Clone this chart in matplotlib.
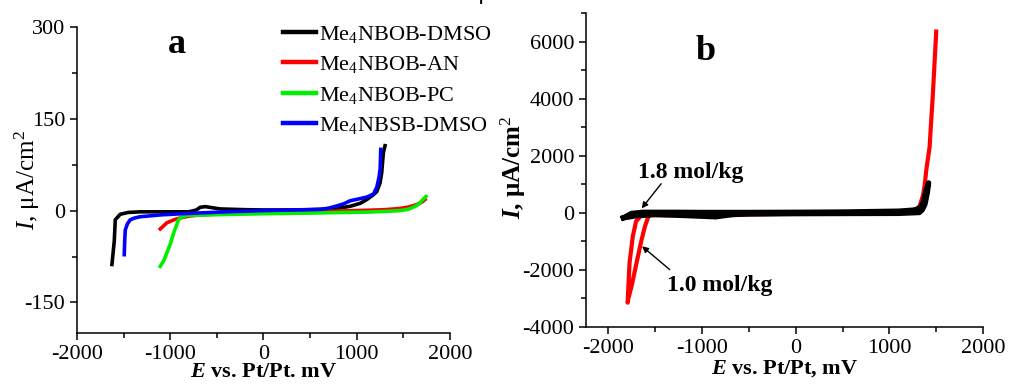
import matplotlib
matplotlib.use("Agg")
import matplotlib.pyplot as plt
from matplotlib.ticker import MultipleLocator

plt.rcParams["font.family"] = ["Liberation Serif", "DejaVu Serif"]
plt.rcParams["mathtext.fontset"] = "custom"
plt.rcParams["mathtext.rm"] = "Liberation Serif"
plt.rcParams["mathtext.it"] = "Liberation Serif:italic"
plt.rcParams["mathtext.bf"] = "Liberation Serif:bold"
plt.rcParams["mathtext.bfit"] = "Liberation Serif:italic:bold"
plt.rcParams["axes.unicode_minus"] = False

# panel a: linear sweeps, E (mV) / I (uA/cm2)
bob_dmso_e = [-1625, -1600, -1589, -1536, -1450, -1321, -1000, -800, -720, -678, -625,
              -540, -464, -200, 0, 400, 750, 930, 1040, 1108, 1180, 1215, 1250, 1268,
              1286, 1304]
bob_dmso_i = [-88, -50, -15, -6, -3, -2, -2, -2, 1, 5.4, 6.5, 4.5, 2.7, 1.5, 1, 1, 2.7, 7,
              12, 18, 26, 31, 45, 62, 95, 106]

bob_an_e = [-1107, -1036, -960, -893, -800, -678, -400, 0, 500, 1000, 1300, 1464, 1560,
            1643, 1700, 1733]
bob_an_i = [-30, -20, -15, -12, -9, -7, -5, -3, -2, 0, 1.5, 3.5, 6, 9.8, 14, 18]

bob_pc_e = [-1107, -1070, -1036, -1000, -964, -911, -870, -821, -600, -300, 36, 500,
            1108, 1350, 1464, 1550, 1607, 1660, 1697, 1743]
bob_pc_i = [-91, -82, -69, -55, -37, -15, -10, -8, -7, -6, -5, -4, -2.5, -1, 0, 2, 5.5,
            10, 16, 23]

bsb_dmso_e = [-1493, -1488, -1482, -1460, -1429, -1380, -1321, -1100, -858, -400, 0,
              300, 607, 700, 786, 860, 929, 1020, 1108, 1179, 1215, 1240, 1251, 1258]
bsb_dmso_i = [-72, -50, -31.6, -22, -15, -12, -10, -7, -5, -2, 0, 1, 2, 4, 7.6, 11, 16,
              19, 22, 27, 38, 55, 68, 100]

# panel b: 1.0 mol/kg (red loop) and 1.8 mol/kg (black loop)
c10_e = [-1561, -1575, -1610, -1646, -1700, -1753, -1788, -1795, -1792, -1775, -1740,
         -1705, -1650, -1561, -1400, -1000, -778, -500, 0, 500, 1000, 1216, 1290, 1323,
         1358, 1376, 1394, 1429, 1465, 1500]
c10_i = [-100, -140, -469, -934, -1748, -2562, -3000, -3147, -2900, -1748, -819, -294,
         -94, -80, -85, -90, -94, -60, -30, -10, 20, 50, 120, 231, 600, 930, 1500, 2300,
         4196, 6350]

c18_e = [-1840, -1800, -1753, -1632, -1300, -1000, -500, 0, 500, 1100, 1250, 1290, 1330,
         1360, 1394, 1419, 1405, 1380, 1350, 1320, 1100, 500, 0, -500, -676, -853,
         -1024, -1300, -1500, -1700, -1790, -1840]
c18_i = [-175, -100, -20, 20, 20, 15, 15, 20, 30, 60, 95, 120, 200, 350, 816, 1050, 700,
         300, 100, 10, -20, -25, -30, -40, -58, -140, -117, -80, -60, -100, -150, -175]

fig = plt.figure(figsize=(10.1, 3.85), dpi=100)

# cropped caption line at the very top (only its lower edge shows)
fig.text(0.574, 1 + 0.5 / 385, "Electrochemical windows of oxidation / reduction potentials",
         ha="right", va="baseline", fontsize=17, family="Liberation Sans")

ax1 = fig.add_axes([0.0762, 0.135, 0.3693, 0.795])
ax2 = fig.add_axes([0.5802, 0.1506, 0.3931, 0.8156])

ax1.plot(bob_dmso_e, bob_dmso_i, color="black", lw=2.6, label="Me$_\\mathrm{4}$NBOB-DMSO")
ax1.plot(bob_an_e, bob_an_i, color="red", lw=2.6, label="Me$_\\mathrm{4}$NBOB-AN")
ax1.plot(bob_pc_e, bob_pc_i, color="#00ee00", lw=2.6, label="Me$_\\mathrm{4}$NBOB-PC")
ax1.plot(bsb_dmso_e, bsb_dmso_i, color="blue", lw=2.6, label="Me$_\\mathrm{4}$NBSB-DMSO")

ax1.set_xlim(-2000, 2000)
ax1.set_ylim(-200, 300)
ax1.xaxis.set_major_locator(MultipleLocator(1000))
ax1.xaxis.set_minor_locator(MultipleLocator(500))
ax1.yaxis.set_major_locator(MultipleLocator(150))
ax1.yaxis.set_minor_locator(MultipleLocator(75))
ax1.set_xlabel("$\\mathbfit{E}$ vs. Pt/Pt. mV", fontsize=16, fontweight="bold")
ax1.set_ylabel("$I$, μA/cm$^{\\mathrm{2}}$", fontsize=18)
ax1.xaxis.set_label_coords(0.5, -0.095)
ax1.yaxis.set_label_coords(-0.093, 0.5)
ax1.text(-925, 258, "a", fontsize=26, fontweight="bold", ha="center", va="baseline")
leg = ax1.legend(loc="upper left", bbox_to_anchor=(0.552, 1.01), frameon=False, fontsize=16,
                 handlelength=1.5, handletextpad=0.12, labelspacing=0.42, borderpad=0,
                 borderaxespad=0)
for h in leg.get_lines():
    h.set_linewidth(3.2)

ax2.plot(c10_e, c10_i, color="red", lw=3)
ax2.plot(c18_e, c18_i, color="black", lw=3.8)
ax2.set_xlim(-2240, 2000)
ax2.set_ylim(-4000, 7000)
ax2.xaxis.set_minor_locator(MultipleLocator(500))
ax2.yaxis.set_minor_locator(MultipleLocator(1000))
ax2.set_xticks([-2000, -1000, 0, 1000, 2000])
ax2.set_yticks([-4000, -2000, 0, 2000, 4000, 6000])
ax2.set_xlabel("$\\mathbfit{E}$ vs. Pt/Pt, mV", fontsize=16, fontweight="bold")
ax2.set_ylabel("$\\mathbfit{I}$, μA/cm$^{\\mathrm{2}}$", fontsize=18, fontweight="bold")
ax2.xaxis.set_label_coords(0.5, -0.099)
ax2.yaxis.set_label_coords(-0.145, 0.51)
ax2.text(-960, 5365, "b", fontsize=26, fontweight="bold", ha="center", va="baseline")

arrow = dict(arrowstyle="-|>", color="black", lw=1, mutation_scale=9)
ax2.annotate("", xy=(-1664, 80), xytext=(-1419, 1095), arrowprops=arrow)
ax2.annotate("", xy=(-1664, -1109), xytext=(-1323, -2053), arrowprops=arrow)
ax2.text(-1685, 1235, "1.8 mol/kg", fontsize=17, fontweight="bold", va="baseline")
ax2.text(-1376, -2753, "1.0 mol/kg", fontsize=17, fontweight="bold", va="baseline")

for ax in (ax1, ax2):
    ax.spines["top"].set_visible(False)
    ax.spines["right"].set_visible(False)
    ax.spines["left"].set_linewidth(1.1)
    ax.spines["bottom"].set_linewidth(1.1)
    ax.tick_params(which="major", direction="out", length=5, width=1.1, labelsize=16)
    ax.tick_params(which="minor", direction="out", length=3.5, width=1.1)

fig.savefig("out.png", dpi=100)
